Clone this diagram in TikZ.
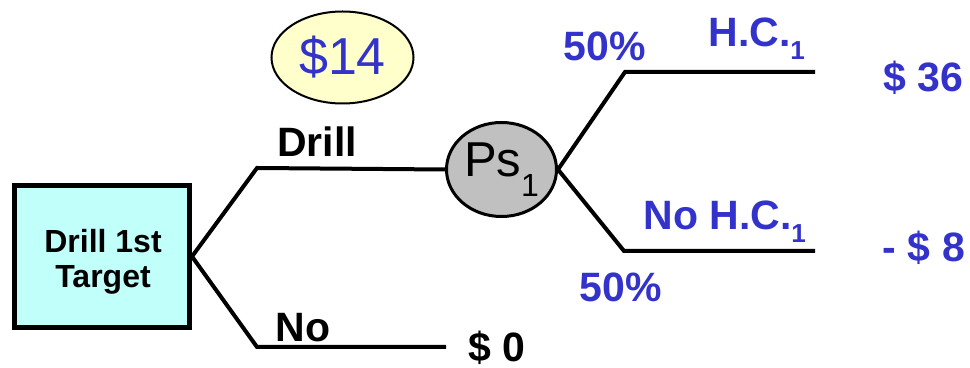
\documentclass[tikz,border=0pt]{standalone}
\usepackage{fontspec}
\setmainfont{Liberation Sans}
\usetikzlibrary{shapes.geometric}
\definecolor{lblue}{RGB}{51,51,204}
\definecolor{boxcyan}{RGB}{192,255,250}
\definecolor{paleyellow}{RGB}{255,255,204}
\definecolor{chancegray}{RGB}{192,192,192}
\tikzset{
  branch/.style={line width=2pt, line join=miter},
  decision/.style={draw, line width=2.5pt, fill=boxcyan, minimum width=87.5pt, minimum height=71pt, inner sep=0pt},
  boxtext/.style={align=center, inner sep=0pt, font=\fontsize{16}{16.5}\selectfont\bfseries},
  chance/.style={ellipse, draw, line width=1.5pt, fill=chancegray, minimum width=55pt, minimum height=47pt, inner sep=0pt, font=\fontsize{24.5}{25}\selectfont},
  value/.style={ellipse, draw, line width=1pt, fill=paleyellow, minimum width=71pt, minimum height=46pt, inner sep=0pt, text=lblue, font=\fontsize{26}{26}\selectfont},
  lbl/.style={anchor=base, inner sep=0pt, font=\fontsize{20.5}{21}\selectfont\bfseries},
  bluelbl/.style={lbl, text=lblue},
}
\newcommand{\subone}{\raisebox{-6.5pt}{\fontsize{13}{13}\selectfont 1}}
\begin{document}
\begin{tikzpicture}[x=0.5pt, y=-0.5pt]
\useasboundingbox (0,0) rectangle (970,368);

% decision node and chance node
\node[decision] (dec) at (102,256.5) {};
\node[boxtext] (dectext) at (103,262) {Drill 1st\\[1pt]Target};
\node[chance] (ps) at (501.5,169.5) {Ps\raisebox{-10pt}{\fontsize{16}{16}\selectfont 1}};
\node[value] (ev) at (342.5,57.5) {\$14};

% branch corners and ends
\coordinate (dk) at (257,168);
\coordinate (nk) at (257,347);
\coordinate (ne) at (446,347);
\coordinate (hk) at (625,72);
\coordinate (he) at (815,72);
\coordinate (xk) at (624,251);
\coordinate (xe) at (815,251);

\draw[branch] (dec.east) -- (dk) -- (ps.west);
\draw[branch] (dec.east) -- (nk) -- (ne);
\draw[branch] (ps.east) -- (hk) -- (he);
\draw[branch] (ps.east) -- (xk) -- (xe);

% branch labels and payoffs
\node[lbl] (ldrill) at (317,157) {Drill};
\node[lbl] (lno) at (303,342) {No};
\node[lbl] (pzero) at (497,362) {\$ 0};

\node[bluelbl] (ptop) at (605,61) {50\%};
\node[bluelbl, anchor=base west] (lhc) at (708,47) {H.C.\subone};
\node[bluelbl] (p36) at (923,92) {\$ 36};

\node[bluelbl, anchor=base west] (lnhc) at (643,230) {No H.C.\subone};
\node[bluelbl] (pm8) at (924,262) {- \$ 8};
\node[bluelbl] (pbot) at (621,302) {50\%};
\end{tikzpicture}
\end{document}
